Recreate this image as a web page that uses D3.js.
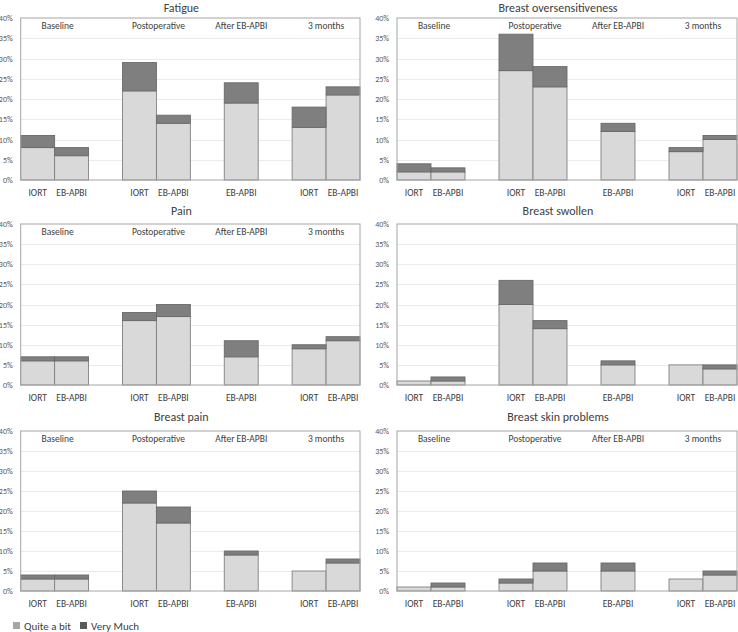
<!DOCTYPE html>
<html>
<head>
<meta charset="utf-8">
<script src="https://cdn.jsdelivr.net/npm/d3@7"></script>
<style>
  body { margin: 0; background: #fff; }
  text { font-family: Calibri, Carlito, Lato, "Liberation Sans", "Open Sans", sans-serif; }
</style>
</head>
<body>
<svg id="chart" width="738" height="632"></svg>
<script>
// ---- data ----
const slots = ["s0","s1","s2","s3","s4","s5","s6","s7","s8","s9"];
const slotLabels = ["IORT","EB-APBI","","IORT","EB-APBI","","EB-APBI","","IORT","EB-APBI"];
const phases = ["Baseline","Postoperative","After EB-APBI","3 months"];
const phaseSlots = [["s0","s1"],["s3","s4"],["s6","s6"],["s8","s9"]];
const seriesNames = ["Quite a bit","Very Much"];
const yTicks = [0,0.05,0.10,0.15,0.20,0.25,0.30,0.35,0.40];

const titles = ["Fatigue","Breast oversensitiveness","Pain","Breast swollen","Breast pain","Breast skin problems"];
const showPhases = [true,true,true,false,true,true];

// values in %, null for empty slots
const fatigueQuite   = [8,6,null,22,14,null,19,null,13,21];
const fatigueVery    = [3,2,null,7,2,null,5,null,5,2];
const overQuite      = [2,2,null,27,23,null,12,null,7,10];
const overVery       = [2,1,null,9,5,null,2,null,1,1];
const painQuite      = [6,6,null,16,17,null,7,null,9,11];
const painVery       = [1,1,null,2,3,null,4,null,1,1];
const swollenQuite   = [1,1,null,20,14,null,5,null,5,4];
const swollenVery    = [0,1,null,6,2,null,1,null,0,1];
const bpainQuite     = [3,3,null,22,17,null,9,null,5,7];
const bpainVery      = [1,1,null,3,4,null,1,null,0,1];
const skinQuite      = [1,1,null,2,5,null,5,null,3,4];
const skinVery       = [0,1,null,1,2,null,2,null,0,1];

const quiteData = [fatigueQuite, overQuite, painQuite, swollenQuite, bpainQuite, skinQuite];
const veryData  = [fatigueVery, overVery, painVery, swollenVery, bpainVery, skinVery];

// ---- layout ----
const cols = [{x0: 20.7, x1: 360}, {x0: 397, x1: 737}];
const rows = [{top: 18, bottom: 180, titleY: 11.5}, {top: 224, bottom: 385, titleY: 214.5}, {top: 431, bottom: 591, titleY: 420.5}];
const barFill = ["#d9d9d9","#7f7f7f"];
const legendFill = ["#a6a6a6","#595959"];

const svg = d3.select("#chart");

titles.forEach((title, i) => {
  const c = cols[i % 2], r = rows[Math.floor(i / 2)];
  const x = d3.scaleBand().domain(slots).range([c.x0, c.x1]).padding(0);
  const y = d3.scaleLinear().domain([0, 0.40]).range([r.bottom, r.top]);
  const g = svg.append("g");

  // gridlines
  g.selectAll("line.grid").data(yTicks.slice(1, -1)).enter().append("line")
    .attr("x1", c.x0).attr("x2", c.x1)
    .attr("y1", d => Math.round(y(d)) + 0.5).attr("y2", d => Math.round(y(d)) + 0.5)
    .attr("stroke", "#ebebeb").attr("stroke-width", 1);

  // y axis labels
  const yAxis = d3.axisLeft(y).tickValues(yTicks).tickFormat(d3.format(".0%")).tickSize(0).tickPadding(8);
  const ya = g.append("g").attr("transform", `translate(${c.x0},0)`).call(yAxis);
  ya.select(".domain").remove();
  ya.selectAll("text").attr("font-size", 8).attr("fill", "#595959");

  // bars
  const q = quiteData[i].map(v => v == null ? null : v / 100);
  const v = veryData[i].map(v => v == null ? null : v / 100);
  const stacks = slots.map((s, k) => ({slot: s, q: q[k], v: v[k]})).filter(d => d.q != null);

  g.selectAll("rect.q").data(stacks).enter().append("rect")
    .attr("x", d => x(d.slot)).attr("width", x.bandwidth())
    .attr("y", d => y(d.q)).attr("height", d => y(0) - y(d.q))
    .attr("fill", barFill[0]).attr("stroke", "#808080").attr("stroke-width", 0.9);
  g.selectAll("rect.v").data(stacks.filter(d => d.v > 0)).enter().append("rect")
    .attr("x", d => x(d.slot)).attr("width", x.bandwidth())
    .attr("y", d => y(d.q + d.v)).attr("height", d => y(d.q) - y(d.q + d.v))
    .attr("fill", barFill[1]).attr("stroke", "#6a6a6a").attr("stroke-width", 0.9);

  // plot border
  g.append("rect").attr("x", c.x0).attr("y", r.top)
    .attr("width", c.x1 - c.x0).attr("height", r.bottom - r.top)
    .attr("fill", "none").attr("stroke", "#a6a6a6").attr("stroke-width", 1);

  // x labels
  const xAxis = d3.axisBottom(x).tickFormat((d, k) => slotLabels[k]).tickSize(0).tickPadding(9);
  const xa = g.append("g").attr("transform", `translate(0,${r.bottom})`).call(xAxis);
  xa.select(".domain").remove();
  xa.selectAll("text").attr("font-size", 9.5).attr("fill", "#404040");

  // phase labels
  if (showPhases[i]) {
    g.selectAll("text.phase").data(phases).enter().append("text")
      .attr("x", (d, k) => (x(phaseSlots[k][0]) + x(phaseSlots[k][1]) + x.bandwidth()) / 2 + (k === 0 ? 3 : (k === 1 ? 2 : 0)))
      .attr("y", r.top + 11)
      .attr("text-anchor", "middle").attr("font-size", 9.5).attr("fill", "#404040")
      .text(d => d);
  }

  // title
  g.append("text").attr("x", (c.x0 + c.x1) / 2 - 9).attr("y", r.titleY)
    .attr("text-anchor", "middle").attr("font-size", 12).attr("fill", "#404040")
    .text(title);
});

// legend
const leg = svg.append("g").attr("transform", "translate(13,622)");
const legX = [0, 67];
seriesNames.forEach((n, k) => {
  leg.append("rect").attr("x", legX[k]).attr("y", 0).attr("width", 7).attr("height", 7).attr("fill", legendFill[k]);
  leg.append("text").attr("x", legX[k] + 11).attr("y", 7.5).attr("font-size", 11).attr("fill", "#404040").text(n);
});
</script>
</body>
</html>
